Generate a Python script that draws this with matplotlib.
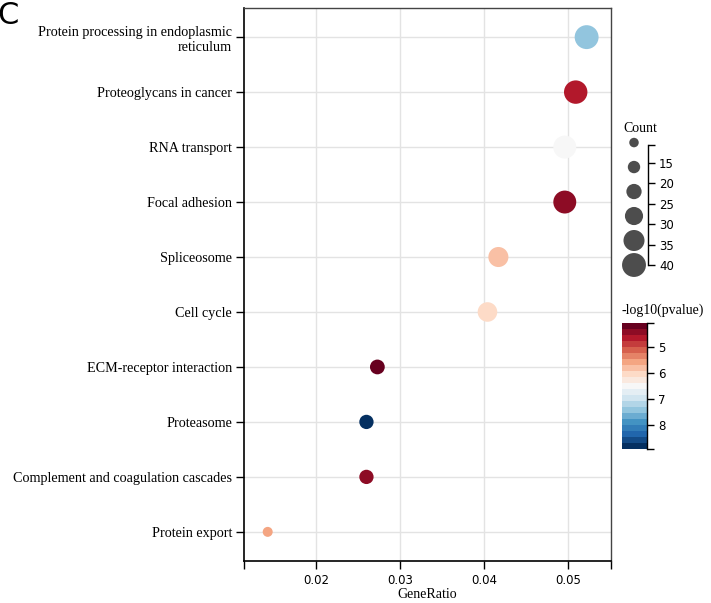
import matplotlib
matplotlib.use("Agg")
import matplotlib.pyplot as plt
import numpy as np
from matplotlib.ticker import FixedLocator

# ---- data ----
pathways = [
    "Protein processing in endoplasmic\nreticulum",
    "Proteoglycans in cancer",
    "RNA transport",
    "Focal adhesion",
    "Spliceosome",
    "Cell cycle",
    "ECM-receptor interaction",
    "Proteasome",
    "Complement and coagulation cascades",
    "Protein export",
]
gene_ratio = [0.0522, 0.0509, 0.0496, 0.0496, 0.0417, 0.0404, 0.0273, 0.0260, 0.0260, 0.01425]
counts = [40, 39, 38, 38, 32, 31, 21, 20, 20, 11]
neglog_p = [7.3, 4.6, 6.6, 4.55, 5.75, 6.15, 4.15, 8.85, 4.4, 5.6]

x_ticks = [0.02, 0.03, 0.04, 0.05]
count_legend_vals = [10, 16, 22, 28, 34, 40]
count_ticks = [15, 20, 25, 30, 35, 40]
cbar_ticks = [5, 6, 7, 8]
vmin, vmax = 4.1, 8.9

serif = "Liberation Serif"


def size_of(c):
    d_px = 0.48 * np.asarray(c, dtype=float) + 4.7
    return (0.72 * d_px) ** 2


fig = plt.figure(figsize=(7.11, 6.03), dpi=100)
W, H = 711, 603


def rect(l, t, r, b):
    return [l / W, 1 - b / H, (r - l) / W, (b - t) / H]


ax = fig.add_axes(rect(244, 8, 611, 561))
cmap = plt.get_cmap("RdBu", 21)
ypos = np.arange(len(pathways))[::-1]
ax.grid(True, color="#e3e3e3", linewidth=1.0, zorder=0)
ax.set_axisbelow(True)
sc = ax.scatter(gene_ratio, ypos, s=size_of(counts), c=neglog_p, cmap=cmap,
                vmin=vmin, vmax=vmax, edgecolors="none", zorder=3)
ax.set_yticks(ypos)
ax.set_yticklabels(pathways, fontfamily=serif, fontsize=10.2, ha="right")
ax.set_ylim(-0.53, len(pathways) - 1 + 0.53)
ax.set_xlim(0.01143, 0.0551)
ax.set_xticks(x_ticks)
ax.set_xticklabels([f"{v:.2f}" for v in x_ticks], fontsize=8.5)
ax.xaxis.set_minor_locator(FixedLocator([0.01143, 0.0551]))
ax.tick_params(axis="x", which="both", length=6, width=1, pad=3)
ax.tick_params(axis="y", length=6, width=1, pad=2.5)
ax.set_xlabel("GeneRatio", fontfamily=serif, fontsize=10, labelpad=1)
for k in ["top", "right"]:
    ax.spines[k].set_color("#444444")
    ax.spines[k].set_linewidth(1.0)
for k in ["left", "bottom"]:
    ax.spines[k].set_linewidth(1.2)

# ---- size legend ----
lax = fig.add_axes(rect(620, 145, 648, 265))
lax.set_xlim(0, 1)
lax.set_ylim(40, 10.6)
lax.scatter([0.5] * len(count_legend_vals), count_legend_vals,
            s=size_of(count_legend_vals), color="#4d4d4d", edgecolors="none", clip_on=False)
for k in ["left", "top", "bottom"]:
    lax.spines[k].set_visible(False)
lax.spines["right"].set_linewidth(1.0)
lax.set_xticks([])
lax.yaxis.tick_right()
lax.set_yticks(count_ticks)
lax.set_yticklabels([str(v) for v in count_ticks], fontsize=8.5)
lax.yaxis.set_minor_locator(FixedLocator([10.6]))
lax.tick_params(axis="y", which="both", length=5, width=1, pad=3)
lax.patch.set_alpha(0)
fig.text(640 / W, 1 - 129 / H, "Count", fontfamily=serif, fontsize=10, ha="center", va="center")

# ---- colorbar ----
cax = fig.add_axes(rect(622, 323, 647, 449))
cb = fig.colorbar(sc, cax=cax)
cb.outline.set_visible(False)
cax.set_ylim(vmax, vmin)
cax.spines["right"].set_visible(True)
cax.spines["right"].set_linewidth(1.0)
cax.set_yticks(cbar_ticks)
cax.set_yticklabels([str(v) for v in cbar_ticks], fontsize=8.5)
cax.yaxis.set_minor_locator(FixedLocator([vmin, vmax]))
cax.tick_params(axis="y", which="both", length=5, width=1, pad=3)
fig.text(622 / W, 1 - 310 / H, "-log10(pvalue)", fontfamily=serif, fontsize=10, ha="left", va="center")

# panel label
fig.text(-0.004, 1 - 16 / H, "C", fontsize=22, ha="left", va="center")

fig.savefig("out.png", dpi=100)
